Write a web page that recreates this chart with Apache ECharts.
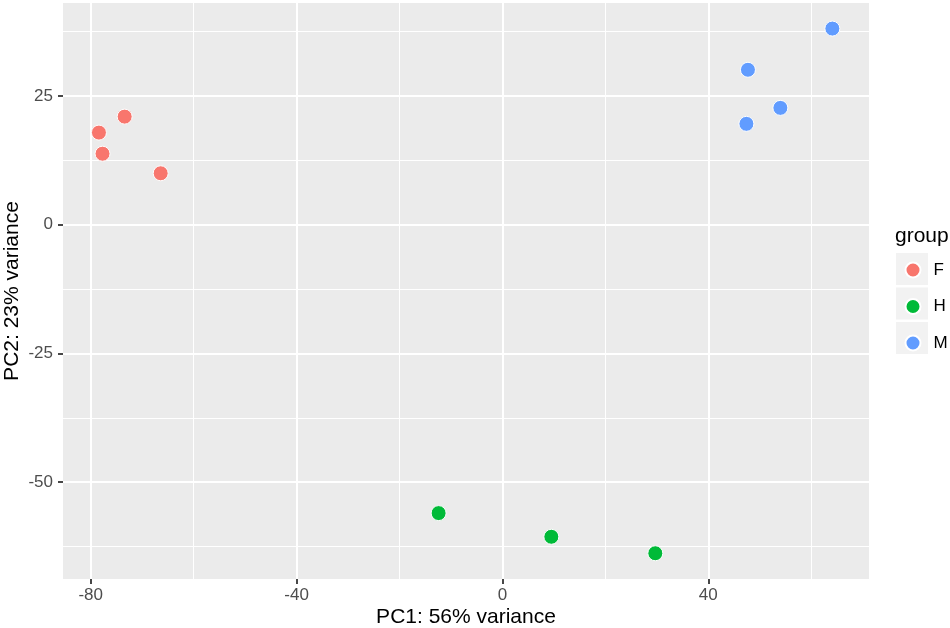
<!DOCTYPE html>
<html>
<head>
<meta charset="utf-8">
<script src="https://cdn.jsdelivr.net/npm/echarts@6/dist/echarts.min.js"></script>
<style>
  html, body { margin: 0; padding: 0; background: #fff; }
  #chart { width: 950px; height: 628px; }
</style>
</head>
<body>
<div id="chart"></div>
<script>
// PC scores, one pair [PC1, PC2] per sample
var groups = ['F', 'H', 'M'];
var groupColors = ['#F8766D', '#00BA38', '#619CFF'];
var pointsF = [[-78.4, 17.9], [-77.7, 13.8], [-73.4, 21.0], [-66.4, 10.0]];
var pointsH = [[-12.4, -56.0], [9.5, -60.6], [29.7, -63.8]];
var pointsM = [[64.1, 38.1], [47.7, 30.1], [54.0, 22.7], [47.4, 19.6]];

var xTicks = [-80, -40, 0, 40];
var xMinor = [-60, -20, 20, 60];
var yTicks = [-50, -25, 0, 25];
var yMinor = [-62.5, -37.5, -12.5, 12.5, 37.5];
var xRange = [-85.38, 71.22];
var yRange = [-68.8, 43.07];

var chart = echarts.init(document.getElementById('chart'));

var font = 'Liberation Sans, Arial, sans-serif';

function mainAxis(ticks, range, extra) {
    var ax = {
        type: 'value',
        min: range[0],
        max: range[1],
        axisLine: { show: false, onZero: false },
        axisTick: { show: true, length: 5, customValues: ticks,
            lineStyle: { color: '#333333', width: 1.8 } },
        axisLabel: { customValues: ticks, color: '#4D4D4D', fontSize: 17, fontFamily: font },
        splitLine: { show: true, lineStyle: { color: '#FFFFFF', width: 2 } },
        nameLocation: 'middle',
        nameMoveOverlap: false,
        nameTextStyle: { color: '#000000', fontSize: 21, fontFamily: font }
    };
    return Object.assign(ax, extra);
}

function minorAxis(ticks, range, extra) {
    var ax = {
        type: 'value',
        min: range[0],
        max: range[1],
        axisLine: { show: false, onZero: false },
        axisTick: { show: false, customValues: ticks },
        axisLabel: { show: false, customValues: ticks },
        splitLine: { show: true, lineStyle: { color: '#FFFFFF', width: 1 } }
    };
    return Object.assign(ax, extra);
}

var allPoints = [pointsF, pointsH, pointsM];

chart.setOption({
    animation: false,
    backgroundColor: '#FFFFFF',
    title: {
        text: 'group',
        left: 895,
        top: 226,
        padding: 0,
        textStyle: { color: '#000000', fontSize: 21, fontWeight: 'normal', fontFamily: font }
    },
    legend: {
        orient: 'vertical',
        left: 904.5,
        top: 261.5,
        padding: 0,
        itemWidth: 15,
        itemHeight: 15,
        itemGap: 19.5,
        icon: 'circle',
        data: groups,
        textStyle: { color: '#000000', fontSize: 17, fontFamily: font, lineHeight: 15, padding: [0, 0, 0, 8] }
    },
    graphic: groups.map(function (g, i) {
        return {
            type: 'rect',
            z: 0,
            shape: { x: 896, y: 253 + i * 34.5, width: 32, height: 32 },
            style: { fill: '#F2F2F2' }
        };
    }),
    grid: {
        left: 63,
        right: 81,
        top: 3,
        bottom: 49,
        show: true,
        containLabel: false,
        outerBoundsMode: 'none',
        backgroundColor: '#EBEBEB',
        borderWidth: 0
    },
    xAxis: [
        mainAxis(xTicks, xRange, { position: 'bottom', name: 'PC1: 56% variance', nameGap: 28,
            axisLabel: { customValues: xTicks, color: '#4D4D4D', fontSize: 17, fontFamily: font, margin: 8 } }),
        minorAxis(xMinor, xRange, { position: 'top' })
    ],
    yAxis: [
        mainAxis(yTicks, yRange, { position: 'left', name: 'PC2: 23% variance', nameGap: 40,
            axisLabel: { customValues: yTicks, color: '#4D4D4D', fontSize: 17, fontFamily: font, margin: 10 } }),
        minorAxis(yMinor, yRange, { position: 'right' })
    ],
    series: groups.map(function (g, i) {
        return {
            name: g,
            type: 'scatter',
            xAxisIndex: 0,
            yAxisIndex: 0,
            symbolSize: 15,
            itemStyle: { color: groupColors[i], borderColor: '#FFFFFF', borderWidth: 1, opacity: 1 },
            data: allPoints[i]
        };
    })
});
</script>
</body>
</html>
